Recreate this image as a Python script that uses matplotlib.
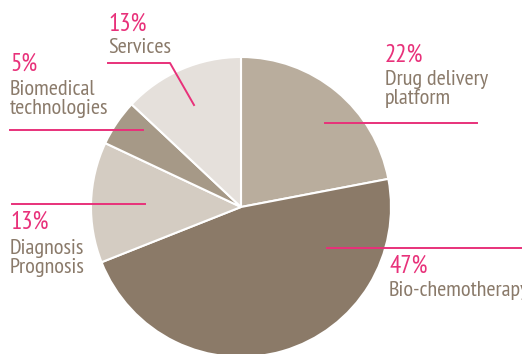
import matplotlib.pyplot as plt

# Shares of the portfolio, clockwise from 12 o'clock
labels = ['Drug delivery\nplatform', 'Bio-chemotherapy', 'Diagnosis\nPrognosis',
          'Biomedical\ntechnologies', 'Services']
shares = [22, 47, 13, 5, 13]
colors = ['#b9ad9d', '#8b7a68', '#d4ccc2', '#a69987', '#e5e0db']

pink = '#e8317a'
grey = '#8a7a6a'

plt.rcParams['font.family'] = ['PT Sans Narrow', 'DejaVu Sans']

W, H = 522, 354
fig = plt.figure(figsize=(W / 100, H / 100), dpi=100)
ax = fig.add_axes([0, 0, 1, 1])

# pie centre / radius in pixel coords (y measured from bottom)
ax.pie(shares, colors=colors, startangle=90, counterclock=False,
       center=(241, H - 207), radius=150,
       wedgeprops=dict(edgecolor='white', linewidth=1.5))
ax.set_xlim(0, W)
ax.set_ylim(0, H)
ax.axis('off')


def py(y):
    return H - y


# leader lines
lw = 1.4
ax.plot([108, 170, 194], [py(63), py(63), py(105)], color=pink, lw=lw)
ax.plot([10, 143], [py(130), py(130)], color=pink, lw=lw)
ax.plot([325, 477], [py(123), py(123)], color=pink, lw=lw)
ax.plot([12, 145], [py(204), py(204)], color=pink, lw=lw)
ax.plot([327, 522], [py(248), py(248)], color=pink, lw=lw)

# text blocks: (x, top of pct, top of label)
spots = [(385, 44, 70), (389, 255, 281), (10, 211, 239), (10, 53, 80), (108, 13, 38)]
for (x, yp, yl), s, lab in zip(spots, shares, labels):
    ax.text(x, py(yp), f'{s}%', color=pink, fontsize=18,
            va='top', ha='left')
    ax.text(x, py(yl), lab, color=grey, fontsize=16,
            va='top', ha='left', linespacing=1.0)

fig.savefig('out.png', dpi=100)
